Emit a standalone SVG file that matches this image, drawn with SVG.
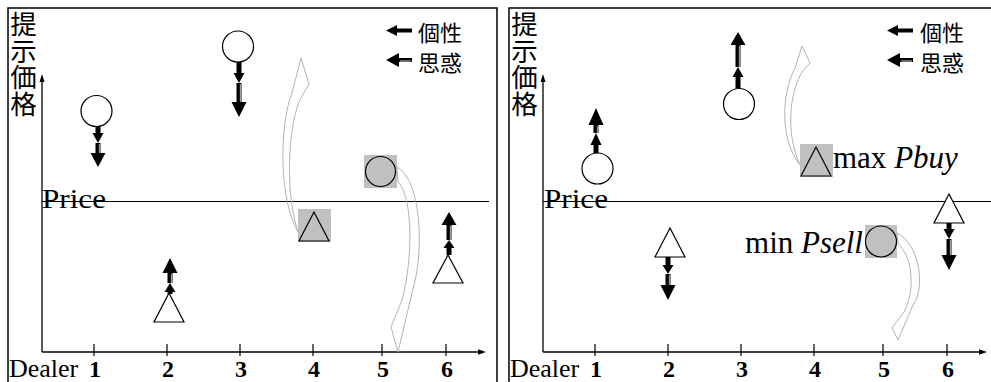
<svg xmlns="http://www.w3.org/2000/svg" width="991" height="382" viewBox="0 0 991 382">
<style>
.frame{fill:none;stroke:#000;stroke-width:1.5}
.axis{stroke:#000;stroke-width:1.3;fill:none}
.tick{stroke:#000;stroke-width:1.2}
.ah{fill:#000}
.price{stroke:#000;stroke-width:1.2}
.node{fill:#fff;stroke:#000;stroke-width:1.2}
.gnode{fill:#c0c0c0;stroke:#000;stroke-width:1.2}
.gbox{fill:#c0c0c0}
.ak{fill:#000}
.aw{fill:#000}
.stripe{stroke:#9a9a9a;stroke-width:1.4}
.curve{fill:none;stroke:#b4b4b4;stroke-width:1}
.serif{font-family:"Liberation Serif","Times New Roman",serif;fill:#000}
.num{font-family:"Liberation Serif","Times New Roman",serif;font-weight:bold;font-size:24px;text-anchor:middle}
.cjk{font-family:"Noto Sans CJK JP","Noto Sans CJK SC",sans-serif;fill:#000}
.vlab{font-family:"Noto Sans CJK JP","Noto Sans CJK SC",sans-serif;fill:#000;font-size:26.5px;writing-mode:vertical-rl}
</style>

<!-- ===== LEFT PANEL ===== -->
<g id="left-panel">
  <rect class="frame" x="8" y="8" width="489" height="390"/>
  <text id="left-ylabel" class="vlab" x="23.5" y="11">提示価格</text>
  <g id="left-axes">
    <line class="axis" x1="42" y1="80" x2="42" y2="352"/>
    <line class="axis" x1="42" y1="352" x2="480" y2="352"/>
    <polygon class="ah" points="42,74 39.5,82 44.5,82"/>
    <polygon class="ah" points="486,352 478,349.3 478,354.7"/>
    <line class="tick" x1="94" y1="344" x2="94" y2="356"/>
    <line class="tick" x1="167" y1="344" x2="167" y2="356"/>
    <line class="tick" x1="240" y1="344" x2="240" y2="356"/>
    <line class="tick" x1="313" y1="344" x2="313" y2="356"/>
    <line class="tick" x1="382" y1="344" x2="382" y2="356"/>
    <line class="tick" x1="446" y1="344" x2="446" y2="356"/>
    <text class="serif" x="9" y="377" font-size="26">Dealer</text>
    <text class="serif num" x="95" y="377">1</text>
    <text class="serif num" x="168" y="377">2</text>
    <text class="serif num" x="241" y="377">3</text>
    <text class="serif num" x="314" y="377">4</text>
    <text class="serif num" x="383" y="377">5</text>
    <text class="serif num" x="447" y="377">6</text>
  </g>
  <g id="left-price">
    <text class="serif" x="42" y="208" font-size="28" textLength="64" lengthAdjust="spacingAndGlyphs">Price</text>
    <line class="price" x1="42" y1="201.5" x2="489" y2="201.5"/>
  </g>
  <g id="left-legend">
    <polygon class="ak" points="386,30.5 397,25 397,28.5 412,28.5 412,32.5 397,32.5 397,36"/>
    <text class="cjk" x="418" y="41" font-size="22">個性</text>
    <polygon class="aw" points="386,60 399,53 399,58 412,58 412,62 399,62 399,67"/>
    <line class="stripe" x1="400" y1="61" x2="411" y2="61"/>
    <text class="cjk" x="418" y="71" font-size="22">思惑</text>
  </g>
</g>

<g id="L1">
  <circle class="node" cx="96.5" cy="111" r="15.5"/>
  <polygon class="ak" points="95.5,127 100.5,127 100.5,133 103.5,133 98,143 92.5,133 95.5,133"/>
  <polygon class="aw" points="95.5,143 100.5,143 100.5,153 105.5,153 98,167 90.5,153 95.5,153"/>
  <line class="stripe" x1="99.5" y1="144" x2="99.5" y2="153"/>
</g>
<g id="L2">
  <polygon class="node" points="169,293 184,322 154,322"/>
  <polygon class="ak" points="167.5,294 172.5,294 172.5,292 175.5,292 170,283 164.5,292 167.5,292"/>
  <polygon class="aw" points="167.5,283 172.5,283 172.5,273 177.5,273 170,258 162.5,273 167.5,273"/>
  <line class="stripe" x1="171.5" y1="274" x2="171.5" y2="283"/>
</g>
<g id="L3">
  <circle class="node" cx="238" cy="46.5" r="15.5"/>
  <polygon class="ak" points="236.5,62 241.5,62 241.5,73 244.5,73 239,83 233.5,73 236.5,73"/>
  <polygon class="aw" points="236.5,83 241.5,83 241.5,102 246.5,102 239,117 231.5,102 236.5,102"/>
  <line class="stripe" x1="240.5" y1="84" x2="240.5" y2="102"/>
</g>
<g id="L4">
  <rect class="gbox" x="298" y="209" width="33" height="33"/>
  <polygon class="gnode" points="314,212 329,241 299,241"/>
</g>
<g id="L5">
  <rect class="gbox" x="364" y="155" width="33" height="33"/>
  <circle class="gnode" cx="380.5" cy="171.5" r="15"/>
</g>
<g id="L6">
  <polygon class="node" points="448,255 463,283 433,283"/>
  <polygon class="ak" points="446.5,255 451.5,255 451.5,248 454.5,248 449,240 443.5,248 446.5,248"/>
  <polygon class="aw" points="446.5,240 451.5,240 451.5,225 456.5,225 449,212 441.5,225 446.5,225"/>
  <line class="stripe" x1="450.5" y1="226" x2="450.5" y2="240"/>
</g>

<!-- ===== RIGHT PANEL ===== -->
<g id="right-panel">
  <rect class="frame" x="509" y="8" width="489" height="390"/>
  <text id="right-ylabel" class="vlab" x="524.5" y="11">提示価格</text>
  <g id="right-axes">
    <line class="axis" x1="543" y1="80" x2="543" y2="352"/>
    <line class="axis" x1="543" y1="352" x2="981" y2="352"/>
    <polygon class="ah" points="543,74 540.5,82 545.5,82"/>
    <polygon class="ah" points="987,352 979,349.3 979,354.7"/>
    <line class="tick" x1="595" y1="344" x2="595" y2="356"/>
    <line class="tick" x1="668" y1="344" x2="668" y2="356"/>
    <line class="tick" x1="741" y1="344" x2="741" y2="356"/>
    <line class="tick" x1="814" y1="344" x2="814" y2="356"/>
    <line class="tick" x1="883" y1="344" x2="883" y2="356"/>
    <line class="tick" x1="947" y1="344" x2="947" y2="356"/>
    <text class="serif" x="510" y="377" font-size="26">Dealer</text>
    <text class="serif num" x="596" y="377">1</text>
    <text class="serif num" x="669" y="377">2</text>
    <text class="serif num" x="742" y="377">3</text>
    <text class="serif num" x="815" y="377">4</text>
    <text class="serif num" x="884" y="377">5</text>
    <text class="serif num" x="948" y="377">6</text>
  </g>
  <g id="right-price">
    <text class="serif" x="544" y="208" font-size="28" textLength="64" lengthAdjust="spacingAndGlyphs">Price</text>
    <line class="price" x1="543" y1="201.5" x2="991" y2="201.5"/>
  </g>
  <g id="right-legend">
    <polygon class="ak" points="887,30.5 898,25 898,28.5 913,28.5 913,32.5 898,32.5 898,36"/>
    <text class="cjk" x="920" y="41" font-size="22">個性</text>
    <polygon class="aw" points="887,60 900,53 900,58 913,58 913,62 900,62 900,67"/>
    <line class="stripe" x1="901" y1="61" x2="912" y2="61"/>
    <text class="cjk" x="920" y="71" font-size="22">思惑</text>
  </g>
</g>

<g id="R1">
  <circle class="node" cx="597.5" cy="168.5" r="15.5"/>
  <polygon class="ak" points="593.5,153 598.5,153 598.5,145 601.5,145 596,133 590.5,145 593.5,145"/>
  <polygon class="aw" points="593.5,133 598.5,133 598.5,125 603.5,125 596,108 588.5,125 593.5,125"/>
  <line class="stripe" x1="597.5" y1="126" x2="597.5" y2="133"/>
</g>
<g id="R2">
  <polygon class="node" points="670,228 685,257 655,257"/>
  <polygon class="ak" points="665.5,257 670.5,257 670.5,265 673.5,265 668,274 662.5,265 665.5,265"/>
  <polygon class="aw" points="665.5,274 670.5,274 670.5,285 675.5,285 668,300 660.5,285 665.5,285"/>
  <line class="stripe" x1="669.5" y1="275" x2="669.5" y2="285"/>
</g>
<g id="R3">
  <circle class="node" cx="739" cy="104" r="15.5"/>
  <polygon class="ak" points="735.5,88 740.5,88 740.5,77 743.5,77 738,67 732.5,77 735.5,77"/>
  <polygon class="aw" points="735.5,67 740.5,67 740.5,45 745.5,45 738,32 730.5,45 735.5,45"/>
  <line class="stripe" x1="739.5" y1="46" x2="739.5" y2="67"/>
</g>
<g id="R4">
  <rect class="gbox" x="800" y="144" width="33" height="33"/>
  <polygon class="gnode" points="816,147 831,176 801,176"/>
  <text class="serif" x="833" y="168" font-size="31">max <tspan font-style="italic">Pbuy</tspan></text>
</g>
<g id="R5">
  <rect class="gbox" x="865" y="225" width="32" height="33"/>
  <circle class="gnode" cx="881" cy="241.5" r="15.5"/>
  <text class="serif" x="863" y="253" font-size="31" text-anchor="end">min <tspan font-style="italic">Psell</tspan></text>
</g>
<g id="R6">
  <polygon class="node" points="949,194 964,223 934,223"/>
  <polygon class="ak" points="946.5,223 951.5,223 951.5,229 954.5,229 949,239 943.5,229 946.5,229"/>
  <polygon class="aw" points="946.5,239 951.5,239 951.5,255 956.5,255 949,270 941.5,255 946.5,255"/>
  <line class="stripe" x1="950.5" y1="240" x2="950.5" y2="255"/>
</g>

<!-- ===== CONNECTORS (curved block arrows) ===== -->
<g id="connectors">
  <path class="curve" d="M301,58 L309,84 L301,98 C290,118 283,185 298,232 C279,200 279,125 292,93 Z"/>
  <path class="curve" d="M397,167 C421,180 425,250 412,293 L398,352 L391,327 L402,300 C414,255 412,195 398,182 Z"/>
  <path class="curve" d="M802,46 L810,63 L802,72 C790,92 785,132 800,165 C780,140 781,95 795,68 Z"/>
  <path class="curve" d="M897,233 C921,245 925,290 913,305 L898,340 L892,328 L904,312 C916,290 912,255 898,244 Z"/>
</g>
</svg>
